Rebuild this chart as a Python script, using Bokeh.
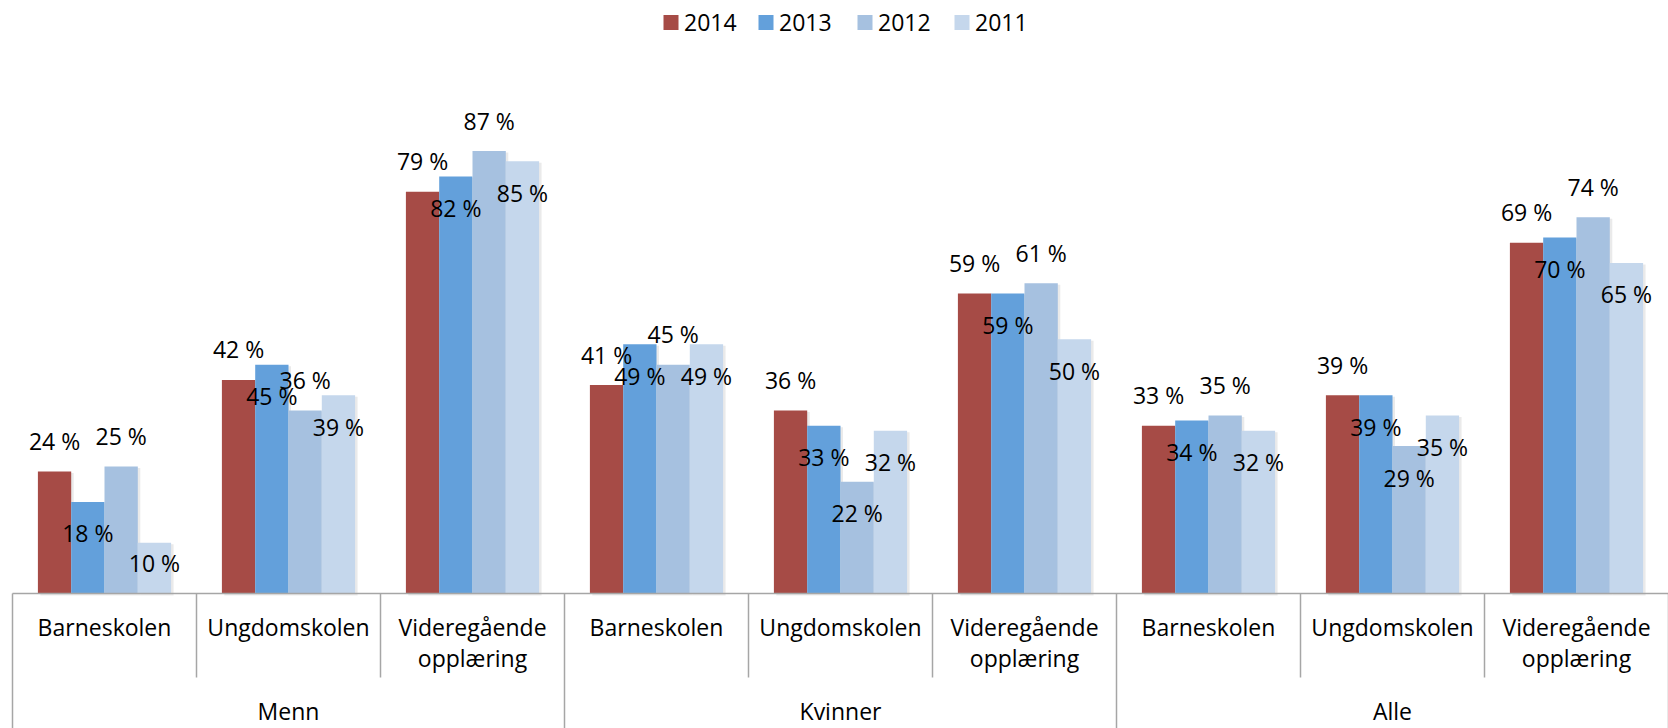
from bokeh.plotting import figure
from bokeh.models import Range1d, ColumnDataSource
from bokeh.core.properties import value
from bokeh.embed import file_html
from bokeh.resources import INLINE

# ---- data ----
groups = ["Menn", "Kvinner", "Alle"]
subcats = ["Barneskolen", "Ungdomskolen", "Videregående\nopplæring"]
years = ["2014", "2013", "2012", "2011"]
y2014 = [24, 42, 79, 41, 36, 59, 33, 39, 69]
y2013 = [18, 45, 82, 49, 33, 59, 34, 39, 70]
y2012 = [25, 36, 87, 45, 22, 61, 35, 29, 74]
y2011 = [10, 39, 85, 49, 32, 50, 32, 35, 65]
series = [y2014, y2013, y2012, y2011]
colors = ["#A64B46", "#63A0DB", "#A6C1E0", "#C5D7EC"]

# ---- layout (window pixel geometry; styling only) ----
W, H = 1668, 728
OX, OY = 0, 0            # page origin of the figure
X0 = 12                  # window x of axis start
CW = 184.0               # category width px
BASE = 593               # window y of baseline
PPU = 5.085              # px per percent
BW = 33.3 / CW           # bar width in category units
TADJ = -10.5             # text baseline correction px
FONT = value("Open Sans")
FS = "23px"
GRAY = "#A6A6A6"

# data-label placement: default per series, with exceptions (series idx, category idx)
label_outside = [True, False, True, False]
inside_exceptions = {(2, 4), (2, 7)}
OUT_GAP = 20             # baseline px above bar top
IN_GAP = 42              # baseline px below bar top
SHORT_IN_GAP = 31        # for very short bars


def ux(wx):
    return (wx - X0) / CW


def vy(wy):
    return (BASE - wy) / PPU


p = figure(width=W, height=H, output_backend="svg", toolbar_location=None,
           x_range=Range1d(ux(OX), ux(OX + W)), y_range=Range1d(vy(OY + H), vy(OY)),
           min_border=0, outline_line_color=None)
p.axis.visible = False
p.grid.visible = False
p.background_fill_color = "white"

n = len(y2014)
for j, (vals, col) in enumerate(zip(series, colors)):
    xs = [i + 0.5 + (j - 1.5) * BW for i in range(n)]
    # soft shadow
    p.vbar(x=[x + 2.5 / CW for x in xs], top=[v - 1.5 / PPU for v in vals], bottom=vy(BASE + 2),
           width=BW, fill_color="#d0d0d0", fill_alpha=0.45, line_color=None)
for j, (vals, col) in enumerate(zip(series, colors)):
    xs = [i + 0.5 + (j - 1.5) * BW for i in range(n)]
    p.vbar(x=xs, top=vals, bottom=0, width=BW, fill_color=col, line_color=None)

for j, vals in enumerate(series):
    xs, ys = [], []
    for i, v in enumerate(vals):
        xs.append(i + 0.5 + (j - 1.5) * BW)
        outside = label_outside[j] and (j, i) not in inside_exceptions
        if outside:
            ys.append(v + (OUT_GAP - TADJ) / PPU)
        else:
            gap = SHORT_IN_GAP if v * PPU < 60 else IN_GAP
            ys.append(v - (gap + TADJ) / PPU)
    src = ColumnDataSource(dict(x=xs, y=ys, t=[f"{v} %" for v in vals]))
    p.text(x="x", y="y", text="t", source=src, text_align="center",
           text_baseline="alphabetic", text_font=FONT, text_font_size=FS,
           text_color="black")

# ---- category axis ----
p.segment(x0=[ux(X0)], y0=[0], x1=[ux(OX + W)], y1=[0], line_color=GRAY, line_width=1.5)
ncat = n
for k in range(ncat + 1):
    bottom = vy(OY + H) if k % 3 == 0 else vy(677)
    p.segment(x0=[k], y0=[0], x1=[k], y1=[bottom], line_color=GRAY, line_width=1.5)

lx, ly, lt = [], [], []
for i in range(ncat):
    lines = subcats[i % 3].split("\n")
    for li, line in enumerate(lines):
        lx.append(i + 0.5)
        ly.append(vy(637 + 31 * li + TADJ))
        lt.append(line)
p.text(x=lx, y=ly, text=lt, text_align="center", text_baseline="alphabetic",
       text_font=FONT, text_font_size=FS, text_color="black")

p.text(x=[3 * g + 1.5 for g in range(len(groups))], y=[vy(721 + TADJ)] * len(groups), text=groups,
       text_align="center", text_baseline="alphabetic", text_font=FONT,
       text_font_size=FS, text_color="black")

# ---- legend ----
leg_sq = [670.5, 765.5, 864.5, 961.5]
p.rect(x=[ux(v) for v in leg_sq], y=[vy(22)] * 4, width=15, height=15,
       width_units="screen", height_units="screen", fill_color=colors, line_color=None)
p.text(x=[ux(v + 13) for v in leg_sq], y=[vy(32 + TADJ)] * 4, text=years, text_align="left",
       text_baseline="alphabetic", text_font=FONT, text_font_size=FS, text_color="black")

open("out.html", "w").write(file_html(p, INLINE))
